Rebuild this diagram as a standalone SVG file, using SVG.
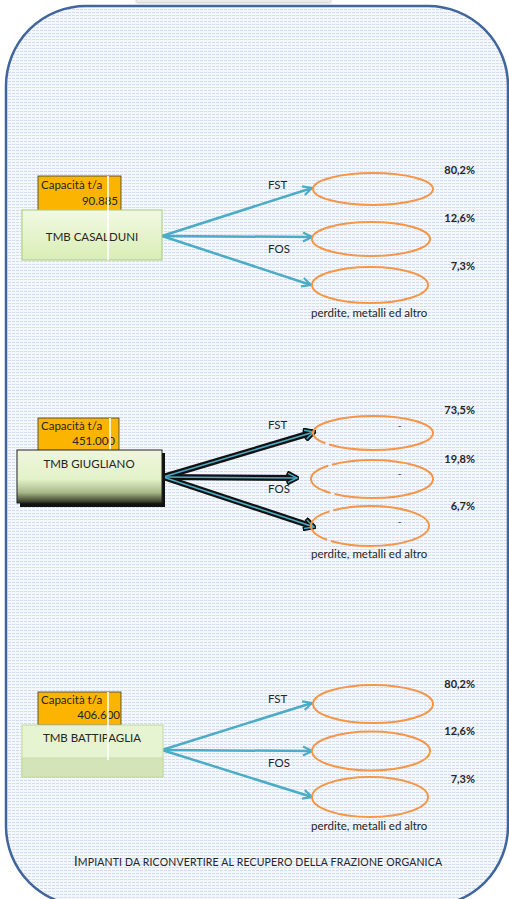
<svg xmlns="http://www.w3.org/2000/svg" width="509" height="899" viewBox="0 0 509 899">
  <defs>
    <style>
      .t { font-family: Lato, "Liberation Sans", sans-serif; fill: #262626; }
      .lbl { font-size: 11.5px; }
      .pct { font-size: 11px; font-weight: bold; }
      .cap { fill: #fbb400; stroke: #3a3a3a; stroke-width: 0.8; }
      .out { fill: none; stroke: #f79646; stroke-width: 2; }
      .teal { fill: none; stroke: #4bacc6; stroke-width: 2.5; }
      .heavy { fill: none; stroke: #111; stroke-width: 6; }
      .thin { fill: none; stroke: #4bacc6; stroke-width: 1.6; }
      .cut { stroke: #ffffff; stroke-width: 1.6; }
    </style>
    <pattern id="grid" width="4" height="3" patternUnits="userSpaceOnUse">
      <rect width="4" height="3" fill="#f4f7fc"/>
      <rect width="3" height="1" fill="#d2ddf0"/>
    </pattern>
    <linearGradient id="gLight" x1="0" y1="0" x2="0" y2="1">
      <stop offset="0" stop-color="#f2f9e4"/>
      <stop offset="1" stop-color="#d9eeb4"/>
    </linearGradient>
    <linearGradient id="gShade" x1="0" y1="0" x2="0" y2="1">
      <stop offset="0" stop-color="#eef6dc"/>
      <stop offset="0.55" stop-color="#e4f2c9"/>
      <stop offset="0.8" stop-color="#a9b88a"/>
      <stop offset="1" stop-color="#2c3020"/>
    </linearGradient>
    <filter id="soft" x="-10%" y="-50%" width="120%" height="250%">
      <feGaussianBlur stdDeviation="1"/>
    </filter>
    <marker id="headTeal" viewBox="0 0 12 12" refX="11" refY="6" markerWidth="12" markerHeight="12" markerUnits="userSpaceOnUse" orient="auto">
      <path d="M2,1.5 L11,6 L2,10.5" fill="none" stroke="#4bacc6" stroke-width="2.2" stroke-linejoin="miter"/>
    </marker>
    <marker id="headDark" viewBox="0 0 14 14" refX="12" refY="7" markerWidth="14" markerHeight="14" markerUnits="userSpaceOnUse" orient="auto">
      <path d="M2,1.5 L12,7 L2,12.5" fill="none" stroke="#111" stroke-width="4.5"/>
    </marker>
    <marker id="headThin" viewBox="0 0 14 14" refX="12" refY="7" markerWidth="14" markerHeight="14" markerUnits="userSpaceOnUse" orient="auto">
      <path d="M3,2.5 L12,7 L3,11.5" fill="none" stroke="#4bacc6" stroke-width="1.4"/>
    </marker>
  </defs>

  <!-- page frame -->
  <g id="frame">
    <rect x="136" y="-3" width="195" height="6" fill="#c9c9c9" filter="url(#soft)"/>
    <rect x="137" y="-3" width="193" height="5" fill="#ececec"/>
    <rect x="6" y="6" width="502" height="900" rx="80" ry="80" fill="url(#grid)" stroke="#41669c" stroke-width="2.5"/>
  </g>

  <!-- connectors -->
  <g id="connectors">
    <!-- Casalduni -->
    <path class="teal" d="M162,236 L312,188" marker-end="url(#headTeal)"/>
    <path class="teal" d="M162,236 L312,237" marker-end="url(#headTeal)"/>
    <path class="teal" d="M162,236 L311,285" marker-end="url(#headTeal)"/>
    <!-- Giugliano -->
    <path class="heavy" d="M163,477 L314,432" marker-end="url(#headDark)"/>
    <path class="heavy" d="M163,477 L297,478" marker-end="url(#headDark)"/>
    <path class="heavy" d="M163,477 L314,527" marker-end="url(#headDark)"/>
    <path class="thin" d="M163,477 L314,432" marker-end="url(#headThin)"/>
    <path class="thin" d="M163,477 L297,478" marker-end="url(#headThin)"/>
    <path class="thin" d="M163,477 L314,527" marker-end="url(#headThin)"/>
    <!-- Battipaglia -->
    <path class="teal" d="M162,750 L312,703" marker-end="url(#headTeal)"/>
    <path class="teal" d="M162,750 L312,751" marker-end="url(#headTeal)"/>
    <path class="teal" d="M162,750 L312,797" marker-end="url(#headTeal)"/>
  </g>

  <!-- TMB Casalduni -->
  <g id="tmb-casalduni">
    <rect class="cap" x="38" y="176" width="83" height="35"/>
    <text class="t lbl" x="41" y="189">Capacità t/a</text>
    <text class="t lbl" x="118" y="205" text-anchor="end">90.885</text>
    <rect x="22" y="210" width="140" height="50" fill="url(#gLight)" stroke="#a9c97f" stroke-width="1"/>
    <text class="t lbl" x="92" y="241" text-anchor="middle">TMB CASALDUNI</text>
    <line class="cut" x1="108" y1="176" x2="108" y2="260"/>
  </g>
  <g id="casalduni-fst">
    <ellipse class="out" cx="373" cy="189" rx="60" ry="16"/>
    <text class="t lbl" x="268" y="189">FST</text>
    <text class="t pct" x="475" y="174" text-anchor="end">80,2%</text>
  </g>
  <g id="casalduni-fos">
    <ellipse class="out" cx="371" cy="239" rx="59" ry="17"/>
    <text class="t lbl" x="268" y="253">FOS</text>
    <text class="t pct" x="475" y="222" text-anchor="end">12,6%</text>
  </g>
  <g id="casalduni-altro">
    <ellipse class="out" cx="370" cy="285" rx="58" ry="18"/>
    <text class="t pct" x="475" y="270" text-anchor="end">7,3%</text>
    <text class="t lbl" x="311" y="317">perdite, metalli ed altro</text>
  </g>

  <!-- TMB Giugliano -->
  <g id="tmb-giugliano">
    <rect class="cap" x="38" y="418" width="81" height="33"/>
    <text class="t lbl" x="41" y="430">Capacità t/a</text>
    <text class="t lbl" x="115" y="445" text-anchor="end">451.000</text>
    <line class="cut" x1="110" y1="418" x2="110" y2="450"/>
    <rect x="20" y="453" width="145" height="54" fill="#111"/>
    <rect x="17" y="450" width="145" height="53" fill="url(#gShade)" stroke="#222" stroke-width="1"/>
    <text class="t lbl" x="89" y="468" text-anchor="middle">TMB GIUGLIANO</text>
  </g>
  <g id="giugliano-fst">
    <ellipse class="out" cx="373" cy="433" rx="60" ry="17" pathLength="100" stroke-dasharray="42 1.5 100"/>
    <text class="t" x="398" y="429" font-size="9">-</text>
    <text class="t lbl" x="268" y="429">FST</text>
    <text class="t pct" x="475" y="414" text-anchor="end">73,5%</text>
  </g>
  <g id="giugliano-fos">
    <ellipse class="out" cx="372" cy="479" rx="61" ry="19" pathLength="100" stroke-dasharray="39 1.5 18 1.5 100"/>
    <text class="t" x="398" y="477" font-size="9">-</text>
    <text class="t lbl" x="268" y="493">FOS</text>
    <text class="t pct" x="475" y="463" text-anchor="end">19,8%</text>
  </g>
  <g id="giugliano-altro">
    <ellipse class="out" cx="370" cy="526" rx="59" ry="20" pathLength="100" stroke-dasharray="40 1.5 18 1.5 100"/>
    <text class="t" x="398" y="525" font-size="9">-</text>
    <text class="t pct" x="475" y="510" text-anchor="end">6,7%</text>
    <text class="t lbl" x="311" y="558">perdite, metalli ed altro</text>
  </g>

  <!-- TMB Battipaglia -->
  <g id="tmb-battipaglia">
    <rect class="cap" x="38" y="692" width="83" height="33"/>
    <text class="t lbl" x="41" y="704">Capacità t/a</text>
    <text class="t lbl" x="120" y="719" text-anchor="end">406.600</text>
    <rect x="22" y="725" width="141" height="52" fill="#e6f3d0" fill-opacity="0.95" stroke="#c3da9c" stroke-width="1"/>
    <rect x="22" y="758" width="141" height="19" fill="#d2e2b6" fill-opacity="0.9" stroke="#c3da9c" stroke-width="0.8"/>
    <text class="t lbl" x="92" y="742" text-anchor="middle">TMB BATTIPAGLIA</text>
    <line class="cut" x1="108" y1="692" x2="108" y2="760"/>
  </g>
  <g id="battipaglia-fst">
    <ellipse class="out" cx="373" cy="704" rx="60" ry="19"/>
    <text class="t lbl" x="268" y="703">FST</text>
    <text class="t pct" x="475" y="688" text-anchor="end">80,2%</text>
  </g>
  <g id="battipaglia-fos">
    <ellipse class="out" cx="371" cy="751" rx="59" ry="19.5"/>
    <text class="t lbl" x="268" y="767">FOS</text>
    <text class="t pct" x="475" y="735" text-anchor="end">12,6%</text>
  </g>
  <g id="battipaglia-altro">
    <ellipse class="out" cx="370" cy="797" rx="58" ry="20"/>
    <text class="t pct" x="475" y="783" text-anchor="end">7,3%</text>
    <text class="t lbl" x="311" y="830">perdite, metalli ed altro</text>
  </g>

  <!-- caption -->
  <g id="caption">
    <text class="t" x="74" y="866" font-size="10.5" textLength="368" lengthAdjust="spacing" fill="#333"><tspan font-size="13">I</tspan>MPIANTI DA RICONVERTIRE AL RECUPERO DELLA FRAZIONE ORGANICA</text>
  </g>
</svg>
